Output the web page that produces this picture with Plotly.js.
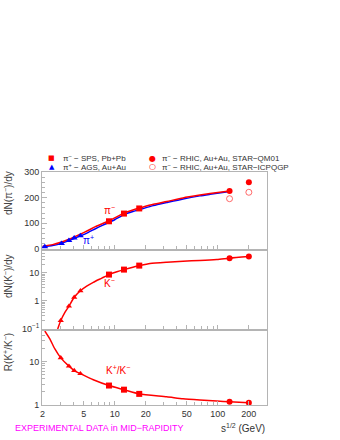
<!DOCTYPE html>
<html>
<head>
<meta charset="utf-8">
<script src="https://cdn.plot.ly/plotly-3.0.1.min.js"></script>
<style>html,body{margin:0;padding:0;background:#fff;}#chart{width:340px;height:440px;}</style>
</head>
<body>
<div id="chart"></div>
<script>
// ---- data ----
const sqrtsAGSpi = [2.1, 3.05, 3.6, 4.05, 4.65];
const piPlusAGS = [9, 21, 33, 43, 52];
const sqrtsSPS = [8.8, 12.3, 17.3];
const piMinusSPS = [108, 138, 158];
const sqrtsRHIC = [130, 200];
const piMinusQM01 = [226, 260];
const piMinusICPQGP = [196, 221];

const sqrtsAGSK = [3.0, 3.6, 4.05, 4.65];
const kMinusAGS = [0.2, 0.65, 1.35, 2.3];
const kMinusSPS = [8.7, 13.1, 18.2];
const kMinusRHIC = [33.5, 38.2];

const ratioAGS = [12.1, 7.8, 6.2, 5.25];
const ratioSPS = [2.8, 2.25, 1.8];
const ratioRHIC = [1.19, 1.13];

const piCurveX = [2, 2.5, 3, 3.5, 4, 4.65, 5.5, 6.5, 7.5, 8.8, 10, 12.3, 15, 17.3, 23.7, 32, 46, 67, 84, 130];
const piMinusCurve = [11, 17, 26, 36, 46, 58, 72, 87, 98, 110, 121, 140, 152, 159, 174, 185, 199, 210, 216, 226];
const piPlusCurve = [9, 14, 21, 31, 40, 51, 64, 79, 91, 104, 114, 134, 146, 153, 169, 181, 195, 207, 213, 224];

const kCurveX = [2.8, 3.0, 3.3, 3.6, 4.05, 4.65, 5.35, 6.2, 7.5, 8.8, 10.5, 12.3, 15, 17.3, 22, 32, 46, 67, 98, 130, 200];
const kMinusCurve = [0.1, 0.2, 0.4, 0.65, 1.35, 2.3, 3.35, 4.6, 6.5, 8.7, 11, 13.1, 16, 18, 21.5, 24.1, 26.2, 27.5, 30, 33.5, 38.2];

const ratioCurveX = [2.1, 2.35, 2.63, 3.0, 3.6, 4.05, 4.65, 6.2, 8.8, 12.3, 17.3, 32, 46, 67, 98, 130, 200];
const ratioCurve = [50, 33, 19.4, 12.1, 7.8, 6.2, 5.25, 3.8, 2.8, 2.25, 1.8, 1.55, 1.39, 1.3, 1.23, 1.19, 1.13];

const xTickVals = [2, 5, 10, 20, 50, 100, 200];
const xTickText = ['2', '5', '10', '20', '50', '100', '200'];
const xMinorVals = [3, 4, 6, 7, 8, 9, 30, 40, 60, 70, 80, 90];

// ---- styling ----
const RED = '#ff0000', BLUE = '#0000ff';
const FONT = 'Liberation Sans, Arial, sans-serif';
const AX = '#b4b4b4', TXT = '#333333';

function line(x, y, color, xa, ya) {
  return {x: x, y: y, xaxis: xa, yaxis: ya, type: 'scatter', mode: 'lines',
    line: {color: color, width: 1.5, shape: 'spline', smoothing: 0.6}, showlegend: false, hoverinfo: 'skip'};
}
function pts(x, y, sym, color, size, xa, ya, open) {
  return {x: x, y: y, xaxis: xa, yaxis: ya, type: 'scatter', mode: 'markers',
    marker: open ? {symbol: sym, size: size, color: 'rgba(255,70,70,0.8)', line: {width: 1}}
                 : {symbol: sym, size: size, color: color, line: {width: 0}},
    showlegend: false, hoverinfo: 'skip', cliponaxis: false};
}

const traces = [
  line(piCurveX, piPlusCurve, BLUE, 'x', 'y'),
  line(piCurveX, piMinusCurve, RED, 'x', 'y'),
  pts(sqrtsAGSpi, piPlusAGS, 'triangle-up', BLUE, 6, 'x', 'y'),
  pts(sqrtsSPS, piMinusSPS, 'square', RED, 6, 'x', 'y'),
  pts(sqrtsRHIC, piMinusQM01, 'circle', RED, 6, 'x', 'y'),
  pts(sqrtsRHIC, piMinusICPQGP, 'circle-open', RED, 6, 'x', 'y', true),

  line(kCurveX, kMinusCurve, RED, 'x2', 'y2'),
  pts(sqrtsAGSK, kMinusAGS, 'triangle-up', RED, 5.5, 'x2', 'y2'),
  pts(sqrtsSPS, kMinusSPS, 'square', RED, 6, 'x2', 'y2'),
  pts(sqrtsRHIC, kMinusRHIC, 'circle', RED, 6, 'x2', 'y2'),

  line(ratioCurveX, ratioCurve, RED, 'x3', 'y3'),
  pts(sqrtsAGSK, ratioAGS, 'triangle-up', RED, 5.5, 'x3', 'y3'),
  pts(sqrtsSPS, ratioSPS, 'square', RED, 6, 'x3', 'y3'),
  pts(sqrtsRHIC, ratioRHIC, 'circle', RED, 6, 'x3', 'y3')
];

function xAxis(anchor, labels) {
  return {type: 'log', range: [0.295, 2.477], anchor: anchor,
    showline: true, mirror: true, linecolor: AX, linewidth: 1,
    showgrid: false, zeroline: false, ticks: 'inside', ticklen: 4, tickcolor: AX,
    tickvals: xTickVals, ticktext: xTickText, showticklabels: labels,
    tickfont: {family: FONT, size: 9, color: TXT},
    minor: {tickvals: xMinorVals, ticks: 'inside', ticklen: 3, tickcolor: AX, showgrid: false}};
}
function yAxis(anchor, domain, extra) {
  return Object.assign({anchor: anchor, domain: domain,
    showline: true, mirror: true, linecolor: AX, linewidth: 1,
    showgrid: false, zeroline: false, ticks: 'inside', ticklen: 5, tickcolor: AX,
    tickfont: {family: FONT, size: 9, color: TXT}}, extra);
}

const layout = {
  width: 340, height: 440,
  margin: {l: 42, r: 73, t: 172, b: 35, pad: 0},
  paper_bgcolor: '#ffffff', plot_bgcolor: '#ffffff',
  showlegend: false,
  font: {family: FONT, color: TXT},
  xaxis: xAxis('y', false),
  xaxis2: xAxis('y2', false),
  xaxis3: xAxis('y3', true),
  yaxis: yAxis('x', [0.6695, 1], {range: [0, 300], tickvals: [0, 100, 200, 300],
    minor: {dtick: 20, ticks: 'inside', ticklen: 3, tickcolor: AX, showgrid: false}}),
  yaxis2: yAxis('x2', [0.3262, 0.6609], {type: 'log', range: [-1, 1.78],
    tickvals: [0.1, 1, 10], ticktext: ['10<sup>−1</sup>', '1', '10'],
    minor: {tickvals: [0.2,0.3,0.4,0.5,0.6,0.7,0.8,0.9,2,3,4,5,6,7,8,9,20,30,40,50,60], ticks: 'inside', ticklen: 3, tickcolor: AX, showgrid: false}}),
  yaxis3: yAxis('x3', [0, 0.3176], {type: 'log', range: [0, 1.7],
    tickvals: [1, 10], ticktext: ['1', '10'],
    minor: {tickvals: [2,3,4,5,6,7,8,9,20,30,40], ticks: 'inside', ticklen: 3, tickcolor: AX, showgrid: false}}),
  annotations: [
    // axis titles
    {xref: 'paper', yref: 'paper', x: -0.151, y: 0.91, text: 'dN(π<sup>−</sup>)/dy', textangle: -90,
     showarrow: false, xanchor: 'center', yanchor: 'middle', font: {family: FONT, size: 10, color: '#444'}},
    {xref: 'paper', yref: 'paper', x: -0.151, y: 0.554, text: 'dN(K<sup>−</sup>)/dy', textangle: -90,
     showarrow: false, xanchor: 'center', yanchor: 'middle', font: {family: FONT, size: 10, color: '#444'}},
    {xref: 'paper', yref: 'paper', x: -0.151, y: 0.227, text: 'R(K<sup>+</sup>/K<sup>−</sup>)', textangle: -90,
     showarrow: false, xanchor: 'center', yanchor: 'middle', font: {family: FONT, size: 10, color: '#444'}},
    {xref: 'paper', yref: 'paper', x: 1, y: -0.098, text: 's<sup>1/2</sup> (GeV)',
     showarrow: false, xanchor: 'right', yanchor: 'middle', font: {family: FONT, size: 10, color: TXT}},
    {xref: 'paper', yref: 'paper', x: -0.130, y: -0.098, text: 'EXPERIMENTAL DATA in MID−RAPIDITY',
     showarrow: false, xanchor: 'left', yanchor: 'middle', font: {family: FONT, size: 9, color: '#ff00ff'}},
    // curve labels
    {xref: 'x', yref: 'y', x: 0.954, y: 151, text: 'π<sup>−</sup>', showarrow: false,
     font: {family: FONT, size: 10, color: RED}},
    {xref: 'x', yref: 'y', x: 0.75, y: 37, text: 'π<sup>+</sup>', showarrow: false,
     font: {family: FONT, size: 10, color: BLUE}},
    {xref: 'x2', yref: 'y2', x: 0.945, y: 0.625, text: 'K<sup>−</sup>', showarrow: false,
     font: {family: FONT, size: 10, color: RED}},
    {xref: 'x3', yref: 'y3', x: 1.032, y: 0.795, text: 'K<sup>+</sup>/K<sup>−</sup>', showarrow: false,
     font: {family: FONT, size: 10, color: RED}},
    // legend (symbols as text glyphs + labels)
    {xref: 'paper', yref: 'paper', x: 0.0444, y: 1.060, text: '■', showarrow: false, xanchor: 'center', yanchor: 'middle',
     font: {family: 'DejaVu Sans', size: 7, color: RED}},
    {xref: 'paper', yref: 'paper', x: 0.0844, y: 1.060, text: 'π<sup>−</sup> − SPS, Pb+Pb', showarrow: false, xanchor: 'left', yanchor: 'middle',
     font: {family: FONT, size: 8, color: TXT}},
    {xref: 'paper', yref: 'paper', x: 0.0444, y: 1.0236, text: '▲', showarrow: false, xanchor: 'center', yanchor: 'middle',
     font: {family: 'DejaVu Sans', size: 7, color: BLUE}},
    {xref: 'paper', yref: 'paper', x: 0.0844, y: 1.0236, text: 'π<sup>+</sup> − AGS, Au+Au', showarrow: false, xanchor: 'left', yanchor: 'middle',
     font: {family: FONT, size: 8, color: TXT}},
    {xref: 'paper', yref: 'paper', x: 0.489, y: 1.060, text: '●', showarrow: false, xanchor: 'center', yanchor: 'middle',
     font: {family: 'DejaVu Sans', size: 8, color: RED}},
    {xref: 'paper', yref: 'paper', x: 0.524, y: 1.060, text: 'π<sup>−</sup> − RHIC, Au+Au, STAR−QM01', showarrow: false, xanchor: 'left', yanchor: 'middle',
     font: {family: FONT, size: 8, color: TXT}},
    {xref: 'paper', yref: 'paper', x: 0.489, y: 1.0236, text: '○', showarrow: false, xanchor: 'center', yanchor: 'middle',
     font: {family: 'DejaVu Sans', size: 8, color: RED}},
    {xref: 'paper', yref: 'paper', x: 0.524, y: 1.0236, text: 'π<sup>−</sup> − RHIC, Au+Au, STAR−ICPQGP', showarrow: false, xanchor: 'left', yanchor: 'middle',
     font: {family: FONT, size: 8, color: TXT}}
  ]
};

Plotly.newPlot('chart', traces, layout, {staticPlot: true, displayModeBar: false});
</script>
</body>
</html>
